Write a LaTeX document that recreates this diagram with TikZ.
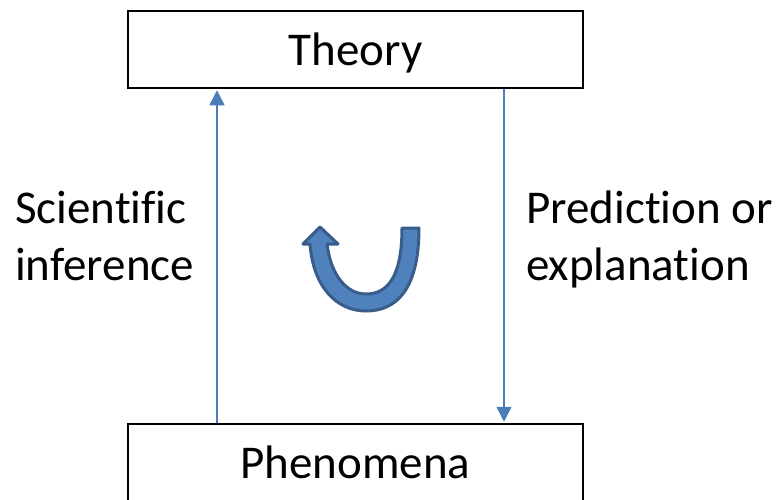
\documentclass[tikz,border=0pt]{standalone}
\usepackage{fontspec}
\setmainfont[Ligatures=NoCommon]{Carlito}
\usetikzlibrary{arrows.meta}
\definecolor{linkblue}{HTML}{4A7EBB}
\definecolor{ufill}{HTML}{4F81BD}
\definecolor{uedge}{HTML}{385D8A}
\tikzset{
  box/.style={draw=black, line width=2.5pt, fill=white, minimum width=455pt, minimum height=77pt, inner sep=0pt},
  lbl/.style={inner sep=0pt, font=\fontsize{47}{57}\selectfont},
  link/.style={draw=linkblue, line width=1.5pt, -{Triangle[width=15pt,length=15pt]}, shorten >=1pt},
}
\begin{document}
\begin{tikzpicture}[x=1pt,y=-1pt]
\useasboundingbox (0,0) rectangle (780,499);
\clip (0,0) rectangle (780,499);
\node[box] (theory) at (355.5,49.5) {};
\node[box] (phen) at (355.5,462.5) {};
\node[lbl, anchor=base] (theorytxt) at (355.5,65) {Theory};
\node[lbl, anchor=base] (phentxt) at (355.5,478) {Phenomena};
\node[lbl, anchor=base west, align=left] (sci) at (15,280) {Scientific\\inference};
\node[lbl, anchor=base west, align=left] (pred) at (526,280) {Prediction or\\explanation};
\draw[link] (phen.north -| 217,0) -- (theory.south -| 217,0);
\draw[link] (theory.south -| 504,0) -- (phen.north -| 504,0);
\draw[fill=ufill, draw=uedge, line width=3pt, line join=round]
  (419,228) .. controls (419,290) and (396,311) .. (366,311)
  .. controls (336,311) and (313,286) .. (310,244)
  -- (303,244) -- (320,227) -- (338,244) -- (327,244)
  .. controls (331,276) and (347,294) .. (366,294)
  .. controls (388,294) and (402,276) .. (402,228) -- cycle;
\end{tikzpicture}
\end{document}
